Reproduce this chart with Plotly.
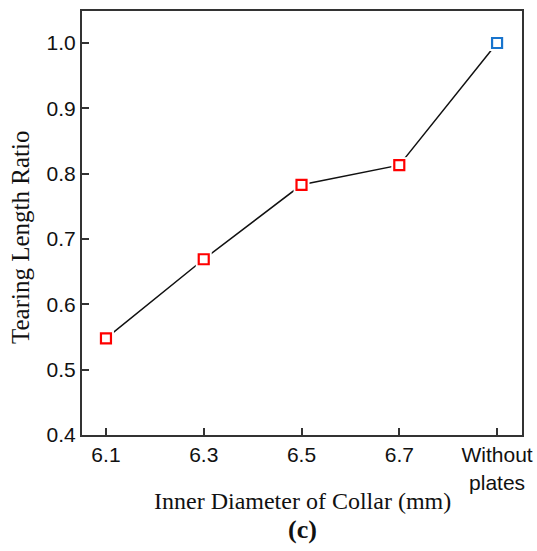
import plotly.graph_objects as go

categories = ["6.1", "6.3", "6.5", "6.7", "Without<br>plates"]
ratio = [0.548, 0.669, 0.783, 0.813, 1.0]
marker_colors = ["#ff0000", "#ff0000", "#ff0000", "#ff0000", "#1874cd"]
y_ticks = [0.4, 0.5, 0.6, 0.7, 0.8, 0.9, 1.0]

xpos = list(range(len(categories)))

fig = go.Figure()
fig.add_trace(go.Scatter(
    x=xpos, y=ratio, mode="lines",
    line=dict(color="#111111", width=1.5), hoverinfo="skip", showlegend=False))
# white halo to create small gap between line and markers
fig.add_trace(go.Scatter(
    x=xpos, y=ratio, mode="markers",
    marker=dict(symbol="square", size=16, color="white", line=dict(width=0)),
    hoverinfo="skip", showlegend=False))
fig.add_trace(go.Scatter(
    x=xpos, y=ratio, mode="markers",
    marker=dict(symbol="square", size=10, color="white",
                line=dict(color=marker_colors, width=2.2)),
    showlegend=False))

axis_common = dict(
    showline=True, linecolor="#333333", linewidth=2, mirror=True,
    ticks="inside", ticklen=7, tickwidth=1.5, tickcolor="#333333",
    showgrid=False, zeroline=False, automargin=False,
    tickfont=dict(family="Liberation Sans, Arial, sans-serif", size=21, color="#111111"),
)

fig.update_xaxes(
    range=[-0.245, 4.255], tickmode="array", tickvals=xpos, ticktext=categories,
    **axis_common)
fig.update_yaxes(
    range=[0.4, 1.049], tickmode="array", tickvals=y_ticks,
    ticktext=[f"{v:.1f}" for v in y_ticks], **axis_common)

serif = "Liberation Serif, Times New Roman, serif"
fig.add_annotation(
    text="Tearing Length Ratio", xref="paper", yref="paper", x=0, y=0.5,
    xanchor="center", yanchor="middle", xshift=-62, yshift=-15, textangle=-90,
    showarrow=False, font=dict(family=serif, size=25, color="#111111"))
fig.add_annotation(
    text="Inner Diameter of Collar (mm)", xref="paper", yref="paper", x=0.5, y=0,
    xanchor="center", yanchor="middle", yshift=-66,
    showarrow=False, font=dict(family=serif, size=24, color="#111111"))
fig.add_annotation(
    text="<b>(c)</b>", xref="paper", yref="paper", x=0.5, y=0,
    xanchor="center", yanchor="middle", yshift=-94,
    showarrow=False, font=dict(family=serif, size=26, color="#111111"))

fig.update_layout(
    width=537, height=551,
    margin=dict(l=82, r=15, t=11, b=116, autoexpand=False),
    paper_bgcolor="white", plot_bgcolor="white",
)

fig.write_html("out.html")
